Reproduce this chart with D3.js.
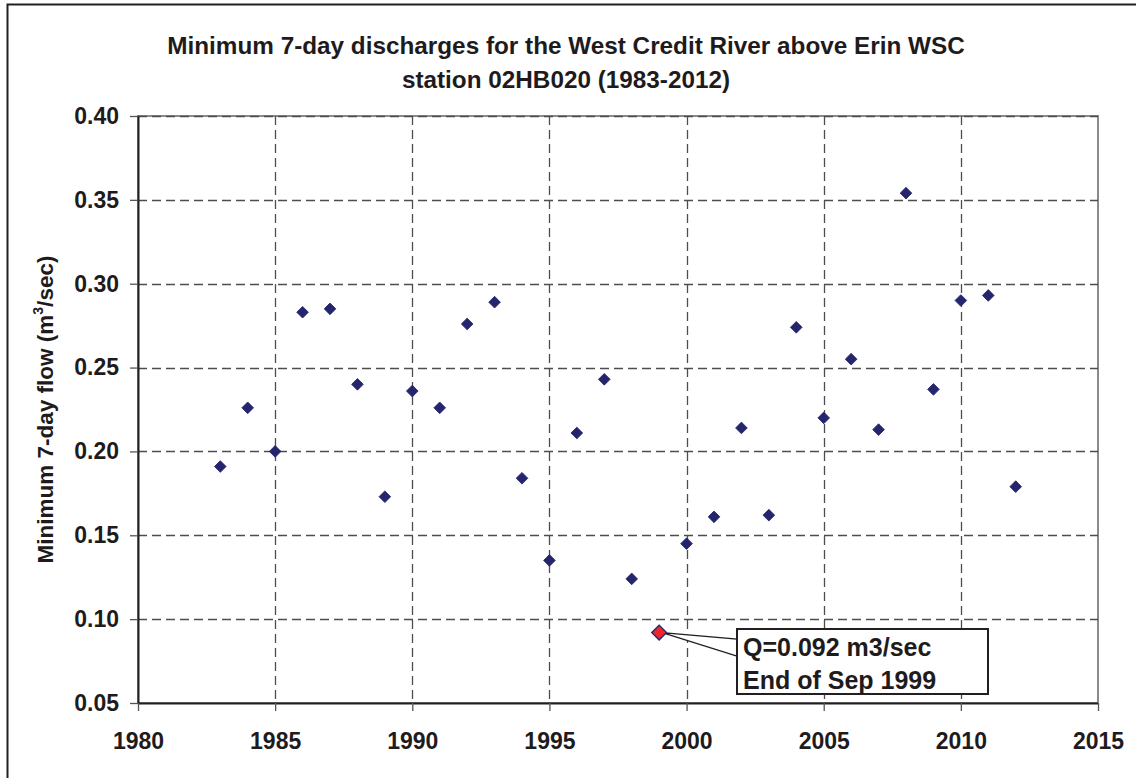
<!DOCTYPE html>
<html>
<head>
<meta charset="utf-8">
<script src="https://cdn.jsdelivr.net/npm/d3@7"></script>
<style>
  html, body { margin: 0; padding: 0; background: #fff; }
  svg { display: block; }
  text { font-family: "Liberation Sans", Arial, sans-serif; font-weight: bold; fill: #1f1b1c; }
</style>
</head>
<body>
<script>
// Annual minimum 7-day discharge, West Credit River above Erin (WSC 02HB020)
const years = [1983, 1984, 1985, 1986, 1987, 1988, 1989, 1990, 1991, 1992,
               1993, 1994, 1995, 1996, 1997, 1998, 1999, 2000, 2001, 2002,
               2003, 2004, 2005, 2006, 2007, 2008, 2009, 2010, 2011, 2012];
const flows = [0.191, 0.226, 0.200, 0.283, 0.285, 0.240, 0.173, 0.236, 0.226, 0.276,
               0.289, 0.184, 0.135, 0.211, 0.243, 0.124, 0.092, 0.145, 0.161, 0.214,
               0.162, 0.274, 0.220, 0.255, 0.213, 0.354, 0.237, 0.290, 0.293, 0.179];
const xTicks = [1980, 1985, 1990, 1995, 2000, 2005, 2010, 2015];
const yTicks = [0.05, 0.10, 0.15, 0.20, 0.25, 0.30, 0.35, 0.40];
const highlightYear = 1999;
const calloutLines = ["Q=0.092 m3/sec", "End of Sep 1999"];
const titleLines = ["Minimum 7-day discharges for the West Credit River above Erin WSC",
                    "station 02HB020 (1983-2012)"];

const W = 1136, H = 778;
const plot = { left: 138, top: 116, right: 1098, bottom: 703 };

const svg = d3.select("body").append("svg").attr("width", W).attr("height", H);

// chart frame (extends past the right and bottom edges)
svg.append("rect").attr("x", 7.5).attr("y", 4.5).attr("width", 1400).attr("height", 1000)
  .attr("fill", "#fff").attr("stroke", "#231f20").attr("stroke-width", 2);

const x = d3.scaleLinear().domain([1980, 2015]).range([plot.left, plot.right]);
const y = d3.scaleLinear().domain([0.05, 0.40]).range([plot.bottom, plot.top]);

// plot area outline (top/right in grey)
svg.append("rect").attr("x", plot.left).attr("y", plot.top)
  .attr("width", plot.right - plot.left).attr("height", plot.bottom - plot.top)
  .attr("fill", "none").attr("stroke", "#8a8a8a").attr("stroke-width", 2);

// dashed grid
const grid = svg.append("g").attr("stroke", "#4d4d4d").attr("stroke-width", 1.3)
  .attr("stroke-dasharray", "9,5");
grid.selectAll(".gy").data(yTicks.filter(v => v > 0.05)).join("line")
  .attr("x1", plot.left).attr("x2", plot.right)
  .attr("y1", d => Math.round(y(d)) + 0.5).attr("y2", d => Math.round(y(d)) + 0.5);
grid.selectAll(".gx").data(xTicks.filter(v => v > 1980 && v < 2015)).join("line")
  .attr("y1", plot.top).attr("y2", plot.bottom)
  .attr("x1", d => Math.round(x(d)) + 0.5).attr("x2", d => Math.round(x(d)) + 0.5);

// axes
const yAxis = d3.axisLeft(y).tickValues(yTicks).tickFormat(d3.format(".2f"))
  .tickSize(8).tickPadding(11);
const xAxis = d3.axisBottom(x).tickValues(xTicks).tickFormat(d3.format("d"))
  .tickSize(8).tickPadding(22);

const gy = svg.append("g").attr("transform", `translate(${plot.left},0)`).call(yAxis);
const gx = svg.append("g").attr("transform", `translate(0,${plot.bottom})`).call(xAxis);
[gy, gx].forEach(g => {
  g.select(".domain").attr("stroke", "#231f20").attr("stroke-width", 2);
  g.selectAll(".tick line").attr("stroke", "#555").attr("stroke-width", 1.3);
  g.selectAll(".tick text").attr("font-size", 23).attr("fill", "#1f1b1c")
    .attr("font-family", "'Liberation Sans', Arial, sans-serif").attr("font-weight", "bold");
});
gx.select(".domain").attr("d", `M${plot.left},0.5H${plot.right}`);
gy.select(".domain").attr("d", `M0.5,${plot.top}V${plot.bottom}`);

// title
const title = svg.append("text").attr("text-anchor", "middle").attr("font-size", 24.3);
titleLines.forEach((t, i) => {
  title.append("tspan").attr("x", 566).attr("y", 54 + i * 34).text(t);
});

// y axis label with superscript
const yl = svg.append("text")
  .attr("transform", `translate(53,${(plot.top + plot.bottom) / 2}) rotate(-90)`)
  .attr("text-anchor", "middle").attr("font-size", 22.5);
yl.append("tspan").text("Minimum 7-day flow (m");
yl.append("tspan").attr("font-size", 14).attr("dy", -10).text("3");
yl.append("tspan").attr("dy", 10).text("/sec)");

// data points
const pts = years.map((yr, i) => ({ yr, v: flows[i] }));
svg.append("g").selectAll("path").data(pts.filter(p => p.yr !== highlightYear)).join("path")
  .attr("d", d3.symbol().type(d3.symbolSquare).size(68))
  .attr("transform", p => `translate(${x(p.yr)},${y(p.v)}) rotate(45)`)
  .attr("fill", "#25256e").attr("stroke", "#25256e").attr("stroke-width", 0.8);

// callout box and leader wedge for the lowest year
const hp = pts.find(p => p.yr === highlightYear);
const hx = x(hp.yr), hy = y(hp.v);
const box = { x: 737, y: 629, w: 251, h: 65 };
svg.append("path")
  .attr("d", `M${hx + 3},${hy} L${box.x},${box.y + 10} L${box.x},${box.y + 27} Z`)
  .attr("fill", "#fff").attr("stroke", "#231f20").attr("stroke-width", 1.3);
svg.append("rect").attr("x", box.x).attr("y", box.y).attr("width", box.w).attr("height", box.h)
  .attr("fill", "#fff").attr("stroke", "#231f20").attr("stroke-width", 2);
const ct = svg.append("text").attr("font-size", 25);
calloutLines.forEach((t, i) => {
  ct.append("tspan").attr("x", box.x + 6).attr("y", box.y + 27 + i * 33).text(t);
});

svg.append("path")
  .attr("d", d3.symbol().type(d3.symbolSquare).size(110))
  .attr("transform", `translate(${hx},${hy}) rotate(45)`)
  .attr("fill", "#f0252a").attr("stroke", "#25256e").attr("stroke-width", 1.3);
</script>
</body>
</html>
